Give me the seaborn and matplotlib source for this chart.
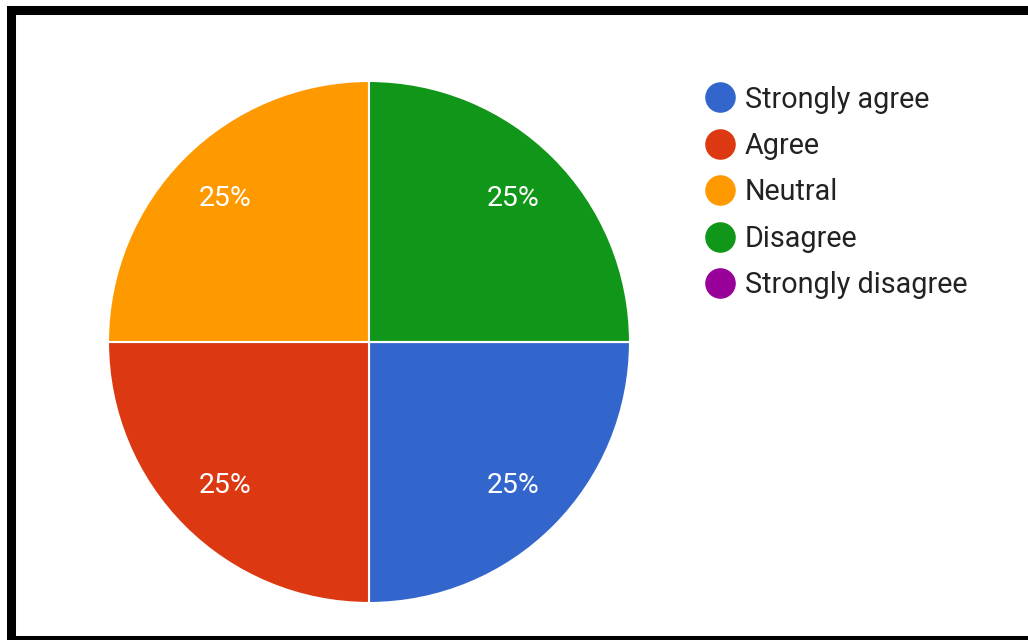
import matplotlib
matplotlib.use("Agg")
import matplotlib.pyplot as plt
from matplotlib.lines import Line2D
from matplotlib.patches import Rectangle
import seaborn as sns

# Survey answers
categories = ["Strongly agree", "Agree", "Neutral", "Disagree", "Strongly disagree"]
shares = [25, 25, 25, 25, 0]
colors = ["#3366CC", "#DC3912", "#FF9900", "#109618", "#990099"]

sns.set_theme(style="white")
plt.rcParams['font.family'] = ['Roboto', 'DejaVu Sans']

fig = plt.figure(figsize=(10.28, 6.4), dpi=100)
fig.patch.set_facecolor("white")

# pie box: centre (369, 342) px, radius ~261 px
ax = fig.add_axes([108 / 1028, (640 - 603) / 640, 522 / 1028, 522 / 640])

def pct_label(p):
    return f"{p:.0f}%" if p > 0.5 else ""

wedges, texts, autotexts = ax.pie(
    shares,
    colors=sns.color_palette(colors),
    startangle=0,
    counterclock=False,
    autopct=pct_label,
    pctdistance=0.78,
    wedgeprops=dict(edgecolor="white", linewidth=1.5),
    textprops=dict(color="white", fontsize=20.5),
)
ax.set_xlim(-1, 1)
ax.set_ylim(-1, 1)
ax.set_aspect("equal")

handles = [Line2D([0], [0], marker="o", linestyle="none", markersize=21,
                  markerfacecolor=c, markeredgecolor=c) for c in colors]
fig.legend(handles, categories, loc="upper left",
           bbox_to_anchor=(693 / 1028, (640 - 74) / 640),
           frameon=False, fontsize=20.7, labelcolor="#222222",
           handletextpad=0.3, labelspacing=0.64, borderaxespad=0,
           handlelength=1.1)

# black frame around the screenshot
fig.patches.append(Rectangle((11 / 1028, 0), 1.2, (640 - 10) / 640,
                             transform=fig.transFigure, fill=False,
                             edgecolor="black", linewidth=6.5, clip_on=False))

fig.savefig("out.png", dpi=100, facecolor="white")
